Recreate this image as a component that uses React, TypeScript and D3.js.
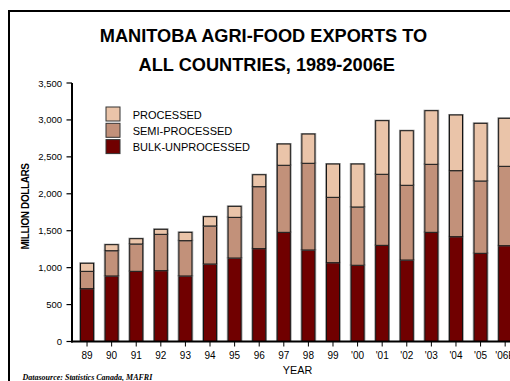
import React from "react";
import * as d3 from "d3";

const years = ["89","90","91","92","93","94","95","96","97","98","99","'00","'01","'02","'03","'04","'05","'06E"];
const bulk = [715, 887, 950, 959, 887, 1049, 1130, 1257, 1478, 1239, 1067, 1032, 1302, 1103, 1478, 1419, 1194, 1297];
const semi = [235, 342, 370, 492, 478, 515, 551, 839, 908, 1174, 885, 789, 962, 1012, 921, 894, 979, 1075];
const processed = [109, 82, 72, 68, 113, 126, 149, 162, 288, 396, 451, 582, 726, 739, 726, 754, 781, 650];
const yTicks = [0, 500, 1000, 1500, 2000, 2500, 3000, 3500];
const seriesNames = ["BULK-UNPROCESSED", "SEMI-PROCESSED", "PROCESSED"];
const seriesColors = ["#700000", "#C2917A", "#EAC4A9"];

export default function App() {
  const W = 510, H = 381;
  const y = d3.scaleLinear().domain([0, 3500]).range([341.5, 83]);
  const x = d3.scaleBand<string>().domain(years).range([75.6, 516.6]).paddingInner(0.47).paddingOuter(0.2);
  const rows = years.map((yr, i) => ({ year: yr, b: bulk[i], s: semi[i], p: processed[i] }));
  const stack = d3.stack<any>().keys(["b", "s", "p"])(rows);
  const fmt = d3.format(",");
  const bw = x.bandwidth();
  const legendItems = [2, 1, 0];
  return (
    <svg width={W} height={H} style={{ position: "absolute", left: 0, top: 0, background: "#fff" }}
      fontFamily="Liberation Sans, Arial, sans-serif">
      <rect x={0} y={0} width={W} height={H} fill="#fff" />
      {/* frame */}
      <line x1={9} y1={11} x2={W} y2={11} stroke="#000" strokeWidth={2} />
      <line x1={9} y1={10} x2={9} y2={H} stroke="#000" strokeWidth={2} />
      {/* title */}
      <text x={263.5} y={41.5} textAnchor="middle" fontSize={18.2} fontWeight="bold">MANITOBA AGRI-FOOD EXPORTS TO</text>
      <text x={266.8} y={71} textAnchor="middle" fontSize={18.2} fontWeight="bold">ALL COUNTRIES, 1989-2006E</text>
      {/* y axis */}
      <line x1={72} y1={y(3500)} x2={72} y2={y(0) + 1} stroke="#000" strokeWidth={2} />
      {yTicks.map(t => (
        <g key={t}>
          <line x1={66.5} x2={72} y1={y(t)} y2={y(t)} stroke="#000" strokeWidth={1.2} />
          <text x={62} y={y(t) + 3.5} textAnchor="end" fontSize={9.5}>{fmt(t)}</text>
        </g>
      ))}
      <text transform={`translate(29,206.5) rotate(-90)`} textAnchor="middle" fontSize={10} fontWeight="bold" letterSpacing={-0.4}>MILLION DOLLARS</text>
      {/* bars */}
      {stack.map((s, si) => (
        <g key={si}>
          {s.map((d, i) => {
            const x0 = x(years[i])!;
            const yTop = y(d[1]);
            const h = y(d[0]) - y(d[1]);
            return (
              <g key={i}>
                <rect x={x0 - 0.8} y={yTop - 0.5} width={bw + 1.6} height={h + 0.5} fill="none" stroke="#999" strokeWidth={1} />
                <rect x={x0} y={yTop} width={bw} height={h} fill={seriesColors[si]} stroke="#111" strokeWidth={1} />
              </g>
            );
          })}
        </g>
      ))}
      {/* x axis */}
      <line x1={71} x2={W} y1={y(0)} y2={y(0)} stroke="#000" strokeWidth={2} />
      {years.map(yr => {
        const cx = x(yr)! + bw / 2;
        return (
          <g key={yr}>
            <line x1={cx} x2={cx} y1={y(0)} y2={y(0) + 5} stroke="#000" strokeWidth={1} />
            <text x={cx} y={359} textAnchor="middle" fontSize={10}>{yr}</text>
          </g>
        );
      })}
      <text x={297.5} y={374} textAnchor="middle" fontSize={10.8}>YEAR</text>
      {/* legend */}
      {legendItems.map((si, k) => (
        <g key={si}>
          <rect x={106} y={107 + k * 16.3} width={14} height={14} fill={seriesColors[si]} stroke="#333" strokeWidth={1} />
          <text x={132.7} y={118.5 + k * 16.3} fontSize={11}>{seriesNames[si]}</text>
        </g>
      ))}
      <text x={22.5} y={379.5} fontSize={8} fontStyle="italic" fontWeight="bold" fontFamily="Liberation Serif, Times New Roman, serif">Datasource: Statistics Canada, MAFRI</text>
    </svg>
  );
}
